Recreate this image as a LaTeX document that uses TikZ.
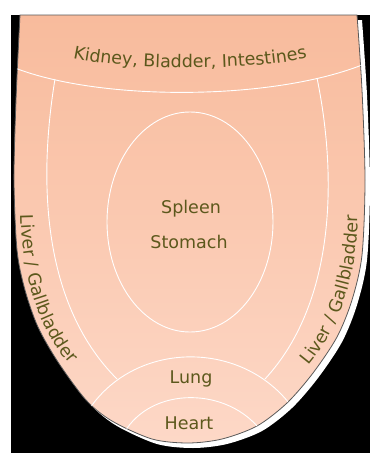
\documentclass[tikz,border=0pt]{standalone}
\usepackage{fontspec}
\setmainfont{DejaVu Sans}
\usepackage{tikz}
\usetikzlibrary{decorations.text}
\definecolor{zonetext}{RGB}{92,88,28}
\definecolor{tonguetop}{RGB}{248,187,156}
\definecolor{tonguebot}{RGB}{253,216,199}
\newcommand{\zonefont}{\fontsize{17.5}{20}\selectfont}
% outline of the tongue, #1 = path options
\newcommand{\tongueshape}[1]{%
  \path[#1] (20,15) -- (357,15) -- plot[smooth] coordinates {(357,15) (362,90) (365,180) (362,255)
    (352,300) (337,337) (313,373) (287,403) (257,426) (222,439) (188,443) (152,439) (112,421)
    (86,400) (58,362) (38,327) (25,290) (17,250) (14,180) (16,100) (20,15)} -- cycle;}

\begin{document}
\begin{tikzpicture}[x=1pt, y=-1pt,
  zone/.style={font=\zonefont, text=zonetext, inner sep=0pt},
  divider/.style={white, line width=0.9pt},
  curved/.style={decorate, decoration={text along path, text align=center,
    text color=zonetext, text={|\zonefont|#1}}}]
\useasboundingbox (0,0) rectangle (370,453);
% black backdrop
\fill[black] (11,15) rectangle (370,453);
% shadow and tongue body
\tongueshape{fill=white, shift={(5,5)}}
\tongueshape{top color=tonguetop, bottom color=tonguebot, draw=gray!70!black, line width=0.8pt}
% zone borders
\begin{scope}
\tongueshape{clip}
\draw[divider] (15,68) .. controls (100,101) and (270,101) .. (362,65);
\draw[divider] (55,79) .. controls (40,170) and (38,300) .. (117,379);
\draw[divider] (317,78) .. controls (336,170) and (338,300) .. (265,379);
\draw[divider] (90,408) .. controls (137,340) and (243,340) .. (292,407);
\draw[divider] (124,433) .. controls (151,386) and (228,386) .. (262,432);
\draw[divider] (190,222) ellipse [x radius=83, y radius=110];
\end{scope}
% labels
\node[zone, anchor=base] (spleen) at (191,213) {Spleen};
\node[zone, anchor=base] (stomach) at (189,248) {Stomach};
\node[zone, anchor=base] (lung) at (191,383) {Lung};
\node[zone, anchor=base] (heart) at (189,429) {Heart};
\path[curved={Kidney, Bladder, Intestines}] (60,55) .. controls (120,72) and (260,72) .. (320,55);
\path[curved={Liver / Gallbladder}] (21,200) .. controls (19,270) and (38,335) .. (80,375);
\path[curved={Liver / Gallbladder}] (298,377) .. controls (340,337) and (360,270) .. (358,200);
\end{tikzpicture}
\end{document}
